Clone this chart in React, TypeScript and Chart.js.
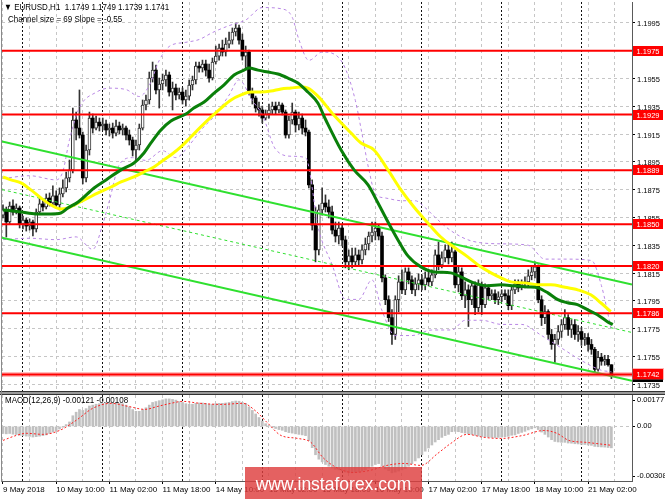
import React, { useEffect, useRef } from 'react';
import { Chart, registerables } from 'chart.js';

Chart.register(...registerables);

const FONT = '"Liberation Sans", Arial, sans-serif';

// ---------- price data (EURUSD H1, 9 May 18:00 .. 21 May 09:00) ----------
const opens = [
  1.18567, 1.18604, 1.18517, 1.18632, 1.18589, 1.18618, 1.18503, 1.18531, 1.18488, 1.18517,
  1.18467, 1.18589, 1.18647, 1.18625, 1.18690, 1.18654, 1.18705, 1.18640, 1.18719, 1.18762,
  1.18834, 1.18892, 1.19251, 1.19193, 1.19143, 1.18834, 1.19035, 1.19265, 1.19193, 1.19236,
  1.19208, 1.19222, 1.19179, 1.19193, 1.19157, 1.19208, 1.19179, 1.19193, 1.19143, 1.19107,
  1.19035, 1.19071, 1.19193, 1.19359, 1.19395, 1.19553, 1.19610, 1.19467, 1.19510, 1.19539,
  1.19575, 1.19452, 1.19481, 1.19431, 1.19452, 1.19395, 1.19423, 1.19503, 1.19539, 1.19639,
  1.19625, 1.19654, 1.19610, 1.19553, 1.19668, 1.19711, 1.19769, 1.19740, 1.19797, 1.19826,
  1.19884, 1.19913, 1.19826, 1.19711, 1.19740, 1.19445, 1.19409, 1.19337, 1.19323, 1.19265,
  1.19294, 1.19323, 1.19351, 1.19323, 1.19359, 1.19308, 1.19143, 1.19251, 1.19308, 1.19215,
  1.19265, 1.19193, 1.19164, 1.18784, 1.18495, 1.18316, 1.18604, 1.18654, 1.18625, 1.18589,
  1.18459, 1.18416, 1.18474, 1.18388, 1.18230, 1.18273, 1.18230, 1.18280, 1.18244, 1.18316,
  1.18359, 1.18416, 1.18445, 1.18474, 1.18416, 1.18115, 1.17958, 1.17829, 1.17708, 1.17958,
  1.18086, 1.18029, 1.18158, 1.18101, 1.18029, 1.18072, 1.18101, 1.18065, 1.18115, 1.18086,
  1.18137, 1.18280, 1.18208, 1.18259, 1.18316, 1.18259, 1.18302, 1.18065, 1.18158, 1.17986,
  1.18029, 1.17958, 1.18058, 1.17901, 1.18065, 1.17922, 1.18043, 1.17986, 1.18001, 1.17958,
  1.17979, 1.18001, 1.17986, 1.17915, 1.18029, 1.18072, 1.18043, 1.18072, 1.18086, 1.18130,
  1.18158, 1.18194, 1.17958, 1.17829, 1.17872, 1.17708, 1.17636, 1.17672, 1.17729, 1.17779,
  1.17829, 1.17744, 1.17779, 1.17708, 1.17729, 1.17672, 1.17686, 1.17636, 1.17601, 1.17457,
  1.17544, 1.17515, 1.17529, 1.17490,
];
const highs = [
  1.18640, 1.18625, 1.18661, 1.18676, 1.18647, 1.18632, 1.18560, 1.18546, 1.18539, 1.18531,
  1.18611, 1.18690, 1.18683, 1.18719, 1.18726, 1.18777, 1.18741, 1.18762, 1.18820, 1.18877,
  1.18963, 1.19337, 1.19308, 1.19467, 1.19164, 1.19071, 1.19308, 1.19294, 1.19280, 1.19265,
  1.19265, 1.19251, 1.19222, 1.19229, 1.19251, 1.19236, 1.19222, 1.19208, 1.19179, 1.19128,
  1.19107, 1.19222, 1.19395, 1.19431, 1.19596, 1.19668, 1.19646, 1.19553, 1.19582, 1.19610,
  1.19596, 1.19524, 1.19510, 1.19481, 1.19481, 1.19467, 1.19539, 1.19567, 1.19668, 1.19668,
  1.19682, 1.19682, 1.19654, 1.19697, 1.19783, 1.19797, 1.19826, 1.19841, 1.19884, 1.19913,
  1.19949, 1.19934, 1.19870, 1.19783, 1.19754, 1.19481, 1.19423, 1.19380, 1.19351, 1.19323,
  1.19366, 1.19380, 1.19380, 1.19380, 1.19373, 1.19323, 1.19280, 1.19373, 1.19323, 1.19308,
  1.19294, 1.19251, 1.19179, 1.18820, 1.18625, 1.18640, 1.18762, 1.18712, 1.18676, 1.18632,
  1.18517, 1.18517, 1.18495, 1.18416, 1.18316, 1.18330, 1.18330, 1.18316, 1.18352, 1.18402,
  1.18445, 1.18517, 1.18517, 1.18495, 1.18445, 1.18137, 1.17986, 1.17886, 1.17986, 1.18130,
  1.18173, 1.18187, 1.18187, 1.18130, 1.18115, 1.18144, 1.18137, 1.18158, 1.18158, 1.18173,
  1.18316, 1.18373, 1.18302, 1.18352, 1.18359, 1.18373, 1.18316, 1.18201, 1.18187, 1.18086,
  1.18065, 1.18086, 1.18086, 1.18101, 1.18086, 1.18072, 1.18065, 1.18029, 1.18029, 1.18015,
  1.18029, 1.18029, 1.18029, 1.18058, 1.18101, 1.18101, 1.18101, 1.18122, 1.18173, 1.18201,
  1.18230, 1.18208, 1.17986, 1.17915, 1.17886, 1.17744, 1.17708, 1.17772, 1.17815, 1.17886,
  1.17851, 1.17815, 1.17815, 1.17772, 1.17758, 1.17715, 1.17715, 1.17672, 1.17615, 1.17587,
  1.17572, 1.17558, 1.17558, 1.17490,
];
const lows = [
  1.18546, 1.18409, 1.18503, 1.18567, 1.18575, 1.18474, 1.18467, 1.18452, 1.18459, 1.18416,
  1.18445, 1.18575, 1.18596, 1.18611, 1.18632, 1.18640, 1.18618, 1.18604, 1.18698, 1.18734,
  1.18805, 1.18870, 1.19107, 1.19121, 1.18791, 1.18805, 1.18999, 1.19157, 1.19179, 1.19172,
  1.19179, 1.19143, 1.19136, 1.19121, 1.19136, 1.19150, 1.19143, 1.19107, 1.19071, 1.18992,
  1.18963, 1.19035, 1.19179, 1.19323, 1.19366, 1.19524, 1.19438, 1.19337, 1.19467, 1.19495,
  1.19423, 1.19323, 1.19395, 1.19402, 1.19366, 1.19351, 1.19395, 1.19467, 1.19510, 1.19596,
  1.19596, 1.19567, 1.19524, 1.19539, 1.19654, 1.19682, 1.19711, 1.19711, 1.19769, 1.19797,
  1.19855, 1.19797, 1.19682, 1.19610, 1.19431, 1.19366, 1.19308, 1.19279, 1.19229, 1.19251,
  1.19265, 1.19294, 1.19294, 1.19301, 1.19287, 1.19121, 1.19121, 1.19222, 1.19164, 1.19179,
  1.19150, 1.19136, 1.18762, 1.18459, 1.18230, 1.18280, 1.18567, 1.18589, 1.18546, 1.18431,
  1.18373, 1.18359, 1.18345, 1.18187, 1.18173, 1.18187, 1.18201, 1.18208, 1.18215, 1.18280,
  1.18316, 1.18373, 1.18388, 1.18388, 1.18086, 1.17922, 1.17801, 1.17636, 1.17672, 1.17872,
  1.18001, 1.17994, 1.18072, 1.18001, 1.17986, 1.18029, 1.18029, 1.18029, 1.18058, 1.18058,
  1.18115, 1.18173, 1.18187, 1.18230, 1.18215, 1.18230, 1.18043, 1.18015, 1.17958, 1.17900,
  1.17765, 1.17922, 1.17851, 1.17872, 1.17851, 1.17901, 1.17958, 1.17958, 1.17929, 1.17922,
  1.17944, 1.17958, 1.17886, 1.17886, 1.18001, 1.18015, 1.18029, 1.18043, 1.18058, 1.18101,
  1.18115, 1.17936, 1.17772, 1.17786, 1.17672, 1.17601, 1.17507, 1.17636, 1.17686, 1.17744,
  1.17701, 1.17686, 1.17672, 1.17658, 1.17629, 1.17629, 1.17587, 1.17565, 1.17436, 1.17443,
  1.17486, 1.17486, 1.17479, 1.17390,
];
const closes = [
  1.18604, 1.18517, 1.18632, 1.18589, 1.18618, 1.18503, 1.18531, 1.18488, 1.18517, 1.18467,
  1.18589, 1.18647, 1.18625, 1.18690, 1.18654, 1.18705, 1.18640, 1.18719, 1.18762, 1.18834,
  1.18892, 1.19251, 1.19193, 1.19143, 1.18834, 1.19035, 1.19265, 1.19193, 1.19236, 1.19208,
  1.19222, 1.19179, 1.19193, 1.19157, 1.19208, 1.19179, 1.19193, 1.19143, 1.19107, 1.19035,
  1.19071, 1.19193, 1.19359, 1.19395, 1.19553, 1.19610, 1.19467, 1.19510, 1.19539, 1.19575,
  1.19452, 1.19481, 1.19431, 1.19452, 1.19395, 1.19423, 1.19503, 1.19539, 1.19639, 1.19625,
  1.19654, 1.19610, 1.19553, 1.19668, 1.19711, 1.19769, 1.19740, 1.19797, 1.19826, 1.19884,
  1.19913, 1.19826, 1.19711, 1.19740, 1.19445, 1.19409, 1.19337, 1.19323, 1.19265, 1.19294,
  1.19323, 1.19351, 1.19323, 1.19359, 1.19308, 1.19143, 1.19251, 1.19308, 1.19215, 1.19265,
  1.19193, 1.19164, 1.18784, 1.18495, 1.18316, 1.18604, 1.18654, 1.18625, 1.18589, 1.18459,
  1.18416, 1.18474, 1.18388, 1.18230, 1.18273, 1.18230, 1.18280, 1.18244, 1.18316, 1.18359,
  1.18416, 1.18445, 1.18474, 1.18416, 1.18115, 1.17958, 1.17829, 1.17708, 1.17958, 1.18086,
  1.18029, 1.18158, 1.18101, 1.18029, 1.18072, 1.18101, 1.18065, 1.18115, 1.18086, 1.18137,
  1.18280, 1.18208, 1.18259, 1.18316, 1.18259, 1.18302, 1.18065, 1.18158, 1.17986, 1.18029,
  1.17958, 1.18058, 1.17901, 1.18065, 1.17922, 1.18043, 1.17986, 1.18001, 1.17958, 1.17979,
  1.18001, 1.17986, 1.17915, 1.18029, 1.18072, 1.18043, 1.18072, 1.18086, 1.18130, 1.18158,
  1.18194, 1.17958, 1.17829, 1.17872, 1.17708, 1.17636, 1.17672, 1.17729, 1.17779, 1.17829,
  1.17744, 1.17779, 1.17708, 1.17729, 1.17672, 1.17686, 1.17636, 1.17601, 1.17457, 1.17544,
  1.17515, 1.17529, 1.17490, 1.17410,
];

// ---------- indicators ----------
const greenMaBars = [0, 5.4, 9.9, 14.4, 17.4, 19.5, 22.6, 27.4, 31, 35.5, 39.4, 42.4, 44.5, 47.5, 50.5, 55, 57.4, 60.5, 63.5, 66.5, 69.5, 72.5, 74, 76.7, 79.7, 82.7, 85.7, 88.7, 91.7, 94.7, 97.1, 101.7, 105.6, 109.8, 112.8, 115.8, 118.8, 121.8, 125.7, 129.6, 134.7, 137.7, 141.6, 145.9, 149.8, 153.7, 157.9, 160.9, 163.9, 166.9, 169.8, 172.8, 175.8, 178.8, 181.8, 183.4];
const greenMaVals = [1.18604, 1.18589, 1.18575, 1.18575, 1.18582, 1.18618, 1.18661, 1.18762, 1.18820, 1.18892, 1.18942, 1.19014, 1.19086, 1.19179, 1.19244, 1.19294, 1.19337, 1.19380, 1.19445, 1.19503, 1.19575, 1.19610, 1.19625, 1.19610, 1.19596, 1.19582, 1.19553, 1.19517, 1.19452, 1.19373, 1.19251, 1.19035, 1.18892, 1.18784, 1.18654, 1.18517, 1.18388, 1.18273, 1.18194, 1.18158, 1.18151, 1.18122, 1.18079, 1.18058, 1.18065, 1.18058, 1.18050, 1.18043, 1.18007, 1.17958, 1.17936, 1.17922, 1.17886, 1.17850, 1.17800, 1.17779];

const yellowMaBars = [0, 2.4, 5.4, 8.4, 11.4, 14.4, 17.4, 19.5, 22.6, 25.6, 28.6, 32.5, 35.5, 39.4, 42.4, 45.4, 47.5, 50.5, 53.5, 56.5, 59.5, 62.6, 65.6, 68.6, 71.6, 74.6, 77.6, 80.6, 83.6, 86.6, 89.6, 91.7, 94.7, 99.5, 104.7, 107.7, 111.6, 115.8, 119.7, 123.6, 127.8, 131.7, 135.6, 139.8, 142.9, 146.8, 149.8, 152.8, 156.7, 160.9, 164.8, 168.7, 172.9, 176.8, 179.8, 182.8];
const yellowMaVals = [1.18841, 1.18820, 1.18798, 1.18748, 1.18690, 1.18640, 1.18611, 1.18618, 1.18654, 1.18690, 1.18726, 1.18769, 1.18805, 1.18842, 1.18877, 1.18913, 1.18949, 1.18999, 1.19057, 1.19129, 1.19201, 1.19273, 1.19337, 1.19395, 1.19431, 1.19452, 1.19452, 1.19459, 1.19474, 1.19481, 1.19488, 1.19481, 1.19423, 1.19287, 1.19157, 1.19085, 1.19035, 1.18892, 1.18748, 1.18625, 1.18510, 1.18409, 1.18337, 1.18266, 1.18208, 1.18151, 1.18115, 1.18086, 1.18079, 1.18065, 1.18065, 1.18050, 1.18029, 1.17993, 1.17936, 1.17872];

const bandUpperBars = [0, 8, 16, 18, 20, 23, 28, 32, 37, 41, 44, 47, 50, 55, 59, 63, 68, 73, 78, 84, 87, 89, 92, 96, 100, 103, 106, 108, 110, 112, 115, 120, 124, 127, 130, 135, 141, 150, 158, 163, 169, 177, 180, 183];
const bandUpperVals = [1.1883, 1.1885, 1.1882, 1.1888, 1.1911, 1.1934, 1.1945, 1.1948, 1.1947, 1.1942, 1.1950, 1.1968, 1.1978, 1.1981, 1.1983, 1.1988, 1.1993, 1.1997, 1.2006, 1.2005, 1.1999, 1.1983, 1.1968, 1.1974, 1.1972, 1.1962, 1.1939, 1.1915, 1.1890, 1.1872, 1.1869, 1.1867, 1.1867, 1.1862, 1.1855, 1.1845, 1.1838, 1.1836, 1.1835, 1.1825, 1.1825, 1.1824, 1.1806, 1.1774];
const bandLowerBars = [0, 8, 16, 22, 27, 30, 32, 35, 39, 43, 48, 52, 56, 60, 64, 68, 71, 75, 78, 82, 87, 91, 95, 99, 103, 107, 111, 114, 118, 123, 129, 135, 139, 144, 150, 156, 162, 168, 174, 180, 183];
const bandLowerVals = [1.1839, 1.1840, 1.1839, 1.1841, 1.1832, 1.1850, 1.1867, 1.1893, 1.1898, 1.1896, 1.1903, 1.1898, 1.1907, 1.1919, 1.1929, 1.1943, 1.1954, 1.1939, 1.1929, 1.1904, 1.1899, 1.1898, 1.1846, 1.1821, 1.1796, 1.1796, 1.1810, 1.1788, 1.1770, 1.1770, 1.1774, 1.1774, 1.1781, 1.1781, 1.1778, 1.1778, 1.1770, 1.1761, 1.1752, 1.1745, 1.1744];

// regression channel (values at the left and right edge of the plot)
const channelEdgeBars = [-0.3, 189.2];
const channelUpper = [1.19097, 1.18068];
const channelMiddle = [1.18750, 1.17722];
const channelLower = [1.18403, 1.17375];

const levels = [1.1975, 1.1929, 1.1889, 1.1850, 1.1820, 1.1786, 1.1742];
const priceTicks = [1.1735, 1.1755, 1.1775, 1.1795, 1.1815, 1.1835, 1.1855, 1.1875, 1.1895, 1.1915, 1.1935, 1.1955, 1.1975, 1.1995];

const macdHist = [
  -0.00040, -0.00042, -0.00040, -0.00044, -0.00046, -0.00050, -0.00052, -0.00055, -0.00056, -0.00060,
  -0.00058, -0.00055, -0.00052, -0.00048, -0.00040, -0.00032, -0.00026, -0.00015, -0.00005, 0.00010,
  0.00025, 0.00060, 0.00080, 0.00095, 0.00090, 0.00100, 0.00115, 0.00120, 0.00125, 0.00128,
  0.00130, 0.00132, 0.00133, 0.00132, 0.00133, 0.00130, 0.00128, 0.00120, 0.00110, 0.00095,
  0.00085, 0.00085, 0.00095, 0.00105, 0.00120, 0.00135, 0.00140, 0.00145, 0.00150, 0.00155,
  0.00155, 0.00152, 0.00148, 0.00140, 0.00135, 0.00128, 0.00125, 0.00125, 0.00130, 0.00132,
  0.00132, 0.00130, 0.00125, 0.00125, 0.00128, 0.00130, 0.00130, 0.00132, 0.00135, 0.00140,
  0.00143, 0.00142, 0.00135, 0.00130, 0.00110, 0.00090, 0.00070, 0.00050, 0.00030, 0.00015,
  0.00005, -0.00005, -0.00012, -0.00018, -0.00022, -0.00030, -0.00035, -0.00038, -0.00042, -0.00045,
  -0.00048, -0.00052, -0.00080, -0.00120, -0.00160, -0.00185, -0.00200, -0.00215, -0.00225, -0.00235,
  -0.00242, -0.00245, -0.00250, -0.00258, -0.00262, -0.00262, -0.00260, -0.00258, -0.00252, -0.00245,
  -0.00235, -0.00225, -0.00215, -0.00210, -0.00225, -0.00240, -0.00250, -0.00262, -0.00258, -0.00252,
  -0.00245, -0.00238, -0.00225, -0.00210, -0.00195, -0.00178, -0.00160, -0.00140, -0.00122, -0.00105,
  -0.00088, -0.00075, -0.00062, -0.00052, -0.00045, -0.00030, -0.00028, -0.00030, -0.00035, -0.00038,
  -0.00042, -0.00045, -0.00050, -0.00054, -0.00057, -0.00058, -0.00060, -0.00062, -0.00063, -0.00062,
  -0.00060, -0.00058, -0.00056, -0.00050, -0.00048, -0.00040, -0.00034, -0.00028, -0.00020, -0.00014,
  -0.00008, -0.00018, -0.00032, -0.00045, -0.00060, -0.00075, -0.00085, -0.00088, -0.00090, -0.00090,
  -0.00094, -0.00095, -0.00098, -0.00099, -0.00102, -0.00102, -0.00105, -0.00107, -0.00113, -0.00115,
  -0.00116, -0.00117, -0.00119, -0.00121,
];
const signalBars = [0, 4, 7, 12, 17, 22, 27, 32.5, 37.6, 42.7, 46.6, 50.5, 54, 59.3, 65.6, 72.2, 75.8, 79.7, 83.6, 88.7, 92.6, 96.2, 100.2, 105.3, 110.4, 115.5, 120.6, 125.7, 130.8, 134.7, 139.6, 144.7, 149.8, 156.4, 162.7, 166.6, 170.2, 175.3, 183.2];
const signalVals = [-0.00079, -0.00051, -0.00039, -0.00045, -0.00023, 0.00034, 0.00102, 0.00130, 0.00113, 0.00096, 0.00113, 0.00130, 0.00141, 0.00130, 0.00124, 0.00130, 0.00090, 0.00017, -0.00051, -0.00068, -0.00090, -0.00175, -0.00231, -0.00260, -0.00248, -0.00220, -0.00209, -0.00220, -0.00152, -0.00096, -0.00045, -0.00062, -0.00068, -0.00051, -0.00023, -0.00039, -0.00079, -0.00090, -0.00107];
const macdMin = -0.00308;
const macdMax = 0.00177;
const macdTickValues = [0.00147, 0, -0.00282];
const macdTickLabels = ['0.00177', '0.00', '-0.00308'];

const dateLabels = ['9 May 2018', '10 May 10:00', '11 May 02:00', '11 May 18:00', '14 May 10:00', '15 May 02:00', '15 May 18:00', '16 May 10:00', '17 May 02:00', '17 May 18:00', '18 May 10:00', '21 May 02:00'];
const dateLabelBars = [0, 16, 32, 48, 64, 80, 96, 112, 128, 144, 160, 176];
const gridBars = [0, 8, 16, 24, 32, 40, 48, 56, 64, 72, 80, 88, 96, 104, 112, 120, 128, 136, 144, 152, 160, 168, 176, 184];
const daySeparatorBars = [6, 30, 54, 78, 102, 126, 150, 174];

const X_MIN = -0.3;
const X_MAX = 189.2;
const PRICE_MIN = 1.17301;
const PRICE_MAX = 1.20100;

const bars = opens.map((_, i) => i);
const pts = (xs: number[], ys: number[]) => xs.map((x, k) => ({ x, y: ys[k] }));

const noPad = (s: any) => { s.paddingTop = 0; s.paddingBottom = 0; s.paddingLeft = 0; s.paddingRight = 0; };

function gridAxes() {
  return {
    xg: {
      type: 'linear', position: 'bottom', min: X_MIN, max: X_MAX, offset: false,
      afterBuildTicks: (s: any) => { s.ticks = gridBars.map((v) => ({ value: v })); },
      ticks: { display: false },
      grid: { color: '#c6c6c6', lineWidth: 1, drawTicks: false, offset: false },
      border: { display: false, dash: [3, 3] },
      afterFit: (s: any) => { s.height = 0; noPad(s); },
    },
    xd: {
      type: 'linear', position: 'bottom', min: X_MIN, max: X_MAX, offset: false,
      afterBuildTicks: (s: any) => { s.ticks = daySeparatorBars.map((v) => ({ value: v })); },
      ticks: { display: false },
      grid: { color: '#111111', lineWidth: 1, drawTicks: false, offset: false },
      border: { display: false, dash: [2, 2] },
      afterFit: (s: any) => { s.height = 0; noPad(s); },
    },
  };
}

const levelLabelsPlugin = {
  id: 'levelLabels',
  afterDraw(chart: any) {
    const { ctx, chartArea } = chart;
    const y = chart.scales.y;
    const x0 = chartArea.right + 1;
    ctx.save();
    const bid = closes[closes.length - 1];
    const by = Math.round(y.getPixelForValue(bid));
    ctx.fillStyle = '#000000';
    ctx.fillRect(x0, by - 4, 30, 10);
    levels.forEach((lvl, k) => {
      const py = Math.round(y.getPixelForValue(lvl));
      if (k === levels.length - 1) {
        ctx.fillStyle = 'rgba(255,90,90,0.45)';
        ctx.fillRect(x0 - 1, py - 6, 32, 12);
      }
      ctx.fillStyle = '#ff0000';
      ctx.fillRect(x0, py - 5, 30, 10);
      ctx.fillStyle = '#ffffff';
      ctx.font = `7.5px ${FONT}`;
      ctx.textAlign = 'center';
      ctx.textBaseline = 'middle';
      ctx.fillText(lvl.toFixed(4), x0 + 15, py + 0.5);
    });
    ctx.restore();
  },
};

export default function App() {
  const mainRef = useRef<HTMLCanvasElement | null>(null);
  const macdRef = useRef<HTMLCanvasElement | null>(null);

  useEffect(() => {
    Chart.defaults.font.family = FONT;
    const lineBase = { type: 'line' as const, pointRadius: 0, fill: false, xAxisID: 'x', yAxisID: 'y' };
    const mainChart = new Chart(mainRef.current as HTMLCanvasElement, {
      type: 'bar',
      data: {
        datasets: [
          {
            type: 'bar', label: 'wicks', xAxisID: 'x', yAxisID: 'y',
            data: bars.map((i) => ({ x: i, y: [lows[i], highs[i]] })) as any,
            backgroundColor: '#333333', barThickness: 1, grouped: false, order: 20,
          },
          {
            type: 'bar', label: 'bodies', xAxisID: 'x', yAxisID: 'y',
            data: bars.map((i) => ({ x: i, y: [opens[i], closes[i]] })) as any,
            backgroundColor: (c: any) => (closes[c.dataIndex] >= opens[c.dataIndex] ? '#ffffff' : '#000000'),
            borderColor: '#333333',
            borderWidth: (c: any) => (closes[c.dataIndex] >= opens[c.dataIndex] ? 1 : 0),
            borderSkipped: false, barThickness: 3, minBarLength: 1, grouped: false, order: 19,
          },
          { ...lineBase, label: 'bbU', data: pts(bandUpperBars, bandUpperVals), borderColor: '#b887e4', borderWidth: 1, borderDash: [3, 3], cubicInterpolationMode: 'monotone', order: 12 },
          { ...lineBase, label: 'bbL', data: pts(bandLowerBars, bandLowerVals), borderColor: '#b887e4', borderWidth: 1, borderDash: [3, 3], cubicInterpolationMode: 'monotone', order: 12 },
          { ...lineBase, label: 'chU', data: pts(channelEdgeBars, channelUpper), borderColor: '#2fe02f', borderWidth: 2, order: 10 },
          { ...lineBase, label: 'chM', data: pts(channelEdgeBars, channelMiddle), borderColor: '#2fe02f', borderWidth: 1, borderDash: [3, 3], order: 10 },
          { ...lineBase, label: 'chL', data: pts(channelEdgeBars, channelLower), borderColor: '#2fe02f', borderWidth: 2, order: 10 },
          { ...lineBase, label: 'lvlHalo', data: pts(channelEdgeBars, [levels[6], levels[6]]), borderColor: 'rgba(255,70,70,0.35)', borderWidth: 5, order: 8 },
          ...levels.map((lvl) => ({ ...lineBase, label: 'lvl' + lvl, data: pts(channelEdgeBars, [lvl, lvl]), borderColor: '#ff0000', borderWidth: 2, order: 7 })),
          { ...lineBase, label: 'ma2', data: pts(yellowMaBars, yellowMaVals), borderColor: '#ffff00', borderWidth: 3, cubicInterpolationMode: 'monotone', order: 4 },
          { ...lineBase, label: 'ma1', data: pts(greenMaBars, greenMaVals), borderColor: '#0a800a', borderWidth: 3, cubicInterpolationMode: 'monotone', order: 3 },
        ] as any,
      },
      options: {
        animation: false,
        responsive: false,
        events: [],
        layout: { padding: { left: 2, top: 2, right: 0, bottom: 1 } },
        plugins: { legend: { display: false }, tooltip: { enabled: false } },
        scales: {
          x: { type: 'linear', min: X_MIN, max: X_MAX, offset: false, display: false },
          ...gridAxes(),
          y: {
            type: 'linear', position: 'right', min: PRICE_MIN, max: PRICE_MAX, beginAtZero: false,
            afterBuildTicks: (s: any) => { s.ticks = priceTicks.map((v) => ({ value: v })); },
            ticks: { callback: (v: any) => Number(v).toFixed(4), font: { size: 7.5, family: FONT }, color: '#000', padding: 2, labelOffset: 1.5, autoSkip: false },
            grid: { color: '#c6c6c6', lineWidth: 1, tickLength: 3, tickColor: '#000', tickBorderDash: [], drawTicks: true },
            border: { display: true, color: '#5a5a5a', width: 1, dash: [3, 3] },
            afterFit: (s: any) => { s.width = 33; noPad(s); },
          },
        } as any,
      },
      plugins: [levelLabelsPlugin],
    });

    const macdChart = new Chart(macdRef.current as HTMLCanvasElement, {
      type: 'bar',
      data: {
        datasets: [
          {
            type: 'bar', label: 'macd', xAxisID: 'x', yAxisID: 'y',
            data: bars.map((i) => ({ x: i, y: macdHist[i] })) as any,
            backgroundColor: '#c0c0c0', barThickness: 2, grouped: false, order: 5,
          },
          {
            type: 'line', label: 'signal', xAxisID: 'x', yAxisID: 'y',
            data: pts(signalBars, signalVals), borderColor: '#ff2020', borderWidth: 1, borderDash: [2, 2],
            pointRadius: 0, fill: false, cubicInterpolationMode: 'monotone', order: 1,
          },
        ] as any,
      },
      options: {
        animation: false,
        responsive: false,
        events: [],
        layout: { padding: { left: 2, top: 3, right: 0, bottom: 0 } },
        plugins: { legend: { display: false }, tooltip: { enabled: false } },
        scales: {
          x: {
            type: 'linear', position: 'bottom', min: X_MIN, max: X_MAX, offset: false,
            afterBuildTicks: (s: any) => { s.ticks = dateLabelBars.map((v) => ({ value: v })); },
            ticks: {
              callback: (v: any) => dateLabels[dateLabelBars.indexOf(Number(v))],
              align: 'start', font: { size: 8, family: FONT }, color: '#000', padding: 1, maxRotation: 0, autoSkip: false,
            },
            grid: { drawOnChartArea: false, drawTicks: true, tickLength: 3, tickColor: '#000', offset: false },
            border: { display: true, color: '#5a5a5a' },
            afterFit: (s: any) => { s.height = 18; noPad(s); },
          },
          ...gridAxes(),
          y: {
            type: 'linear', position: 'right', min: macdMin, max: macdMax, beginAtZero: false,
            afterBuildTicks: (s: any) => { s.ticks = macdTickValues.map((v) => ({ value: v })); },
            ticks: {
              callback: (v: any) => macdTickLabels[macdTickValues.indexOf(Number(v))],
              font: { size: 7.5, family: FONT }, color: '#000', padding: 2, autoSkip: false,
            },
            grid: {
              color: (c: any) => (c.tick && c.tick.value === 0 ? '#c6c6c6' : 'rgba(0,0,0,0)'),
              tickLength: 3, tickColor: '#000', tickBorderDash: [], drawTicks: true,
            },
            border: { display: true, color: '#5a5a5a', width: 1, dash: [3, 3] },
            afterFit: (s: any) => { s.width = 33; noPad(s); },
          },
        } as any,
      },
    });

    return () => {
      mainChart.destroy();
      macdChart.destroy();
    };
  }, []);

  const text: React.CSSProperties = {
    position: 'absolute', fontFamily: FONT, fontSize: 9.2, color: '#000', whiteSpace: 'pre', lineHeight: '11px',
    transform: 'scaleX(0.87)', transformOrigin: '0 0',
  };

  return (
    <div style={{ position: 'fixed', left: 0, top: 0, width: 665, height: 499, background: '#fff', overflow: 'hidden' }}>
      <canvas ref={mainRef} width={665} height={392} style={{ position: 'absolute', left: 0, top: 0, display: 'block' }} />
      <canvas ref={macdRef} width={665} height={107} style={{ position: 'absolute', left: 0, top: 392, display: 'block' }} />
      <div style={{ position: 'absolute', left: 0, top: 391, width: 665, height: 2, borderTop: '1px solid #333', borderBottom: '1px solid #333', background: '#9a9a9a' }} />
      <div style={{ position: 'absolute', left: 1, top: 0, width: 1, height: 482, background: '#8a8a8a' }} />
      <div style={{ ...text, left: 4, top: 2 }}>{'▼ EURUSD,H1  1.1749 1.1749 1.1739 1.1741'}</div>
      <div style={{ ...text, left: 8, top: 14 }}>{'Channel size = 69 Slope = -0.55'}</div>
      <div style={{ ...text, left: 5, top: 395 }}>{'MACD(12,26,9) -0.00121 -0.00108'}</div>
      <div style={{ position: 'absolute', left: 245, top: 467, width: 177, height: 40, background: 'rgba(222,62,62,0.82)', color: '#fff', fontFamily: FONT, fontSize: 17.5, lineHeight: '34px', textAlign: 'center' }}>www.instaforex.com</div>
    </div>
  );
}
